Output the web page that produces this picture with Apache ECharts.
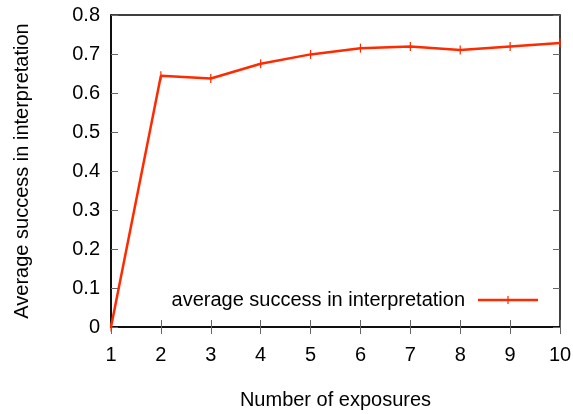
<!DOCTYPE html>
<html><head><meta charset="utf-8">
<script src="https://cdn.jsdelivr.net/npm/echarts@6/dist/echarts.min.js"></script>
<style>html,body{margin:0;padding:0;background:#fff}#c{width:573px;height:414px}</style>
</head><body><div id="c"></div>
<script>
const exposures = [1,2,3,4,5,6,7,8,9,10];
const success = [0,0.644,0.637,0.675,0.699,0.715,0.719,0.710,0.719,0.728];
const yTicks = [0,0.1,0.2,0.3,0.4,0.5,0.6,0.7,0.8];
const seriesName = 'average success in interpretation';
const FONT = 'Liberation Sans';
const FS = 20;
const chart = echarts.init(document.getElementById('c'), null, {renderer:'canvas'});
const tickStyle = {show:true, inside:true, length:7, lineStyle:{color:'#666', width:1}};
chart.setOption({
  animation:false,
  textStyle:{fontFamily:FONT},
  grid:{left:111, right:13, top:15, bottom:87, outerBoundsMode:'none', containLabel:false,
    show:true, borderColor:'#000', borderWidth:1.5, backgroundColor:'transparent'},
  legend:{
    right:30, bottom:99, align:'right', itemWidth:60, itemHeight:12, itemGap:0,
    textStyle:{fontFamily:FONT, fontSize:FS, color:'#000', padding:[0,8,0,0]},
    data:[{name:seriesName, icon:'path://M0,4.75 L60,4.75 L60,7.25 L0,7.25 Z M29.4,2 L30.6,2 L30.6,10 L29.4,10 Z'}],
    itemStyle:{color:'#ff2a00'}
  },
  xAxis:[{
    type:'value', min:1, max:10, interval:1, position:'bottom',
    name:'Number of exposures', nameLocation:'middle', nameGap:63,
    nameTextStyle:{fontFamily:FONT, fontSize:FS, color:'#000'},
    axisLine:{show:true, lineStyle:{color:'#000', width:1.5}},
    axisTick:tickStyle,
    axisLabel:{fontFamily:FONT, fontSize:FS, color:'#000', margin:18},
    splitLine:{show:false}
  },{
    type:'value', min:1, max:10, interval:1, position:'top',
    axisLine:{show:false}, axisTick:tickStyle, axisLabel:{show:false}, splitLine:{show:false}
  }],
  yAxis:[{
    type:'value', min:0, max:0.8, interval:0.1, position:'left',
    name:'Average success in interpretation', nameLocation:'middle', nameGap:79, nameRotate:90,
    nameTextStyle:{fontFamily:FONT, fontSize:FS, color:'#000'},
    axisLine:{show:true, lineStyle:{color:'#000', width:1.5}},
    axisTick:tickStyle,
    axisLabel:{fontFamily:FONT, fontSize:FS, color:'#000', margin:11,
      formatter:v=>{const t=yTicks.find(x=>Math.abs(x-v)<1e-9); return t===0?'0':String(t);}},
    splitLine:{show:false}
  },{
    type:'value', min:0, max:0.8, interval:0.1, position:'right',
    axisLine:{show:false}, axisTick:tickStyle, axisLabel:{show:false}, splitLine:{show:false}
  }],
  series:[{
    name:seriesName, type:'line',
    data:exposures.map((x,i)=>[x,success[i]]),
    symbol:'rect', symbolSize:[1.2,9], showSymbol:true,
    itemStyle:{color:'#ff2a00'},
    lineStyle:{color:'#ff2a00', width:2.5},
    clip:false
  }]
});
</script></body></html>
